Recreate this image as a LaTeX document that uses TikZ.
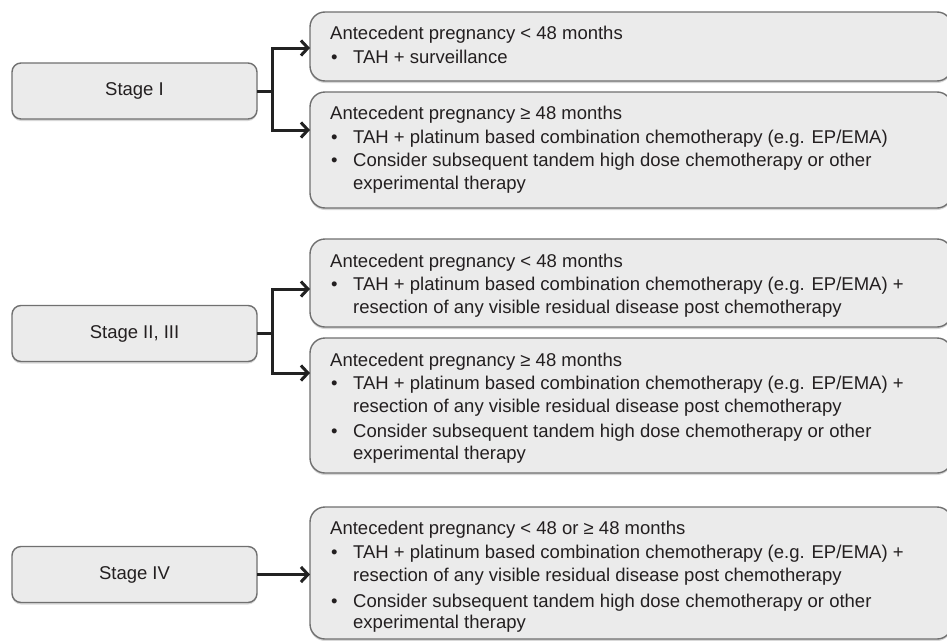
\documentclass[tikz,border=0pt]{standalone}
\usepackage{fontspec}
\setmainfont{Liberation Sans}
\usetikzlibrary{arrows.meta,shadows,calc}
\definecolor{boxfill}{HTML}{EBEBEB}
\definecolor{boxline}{HTML}{707070}
\definecolor{ink}{HTML}{231F20}
\definecolor{arrowink}{HTML}{222222}
\begin{document}
\begin{tikzpicture}[x=1pt,y=-1pt,
  every node/.style={font=\fontsize{18.5}{22}\selectfont, text=ink},
  stagebox/.style={draw=boxline, fill=boxfill, line width=1.4pt, rounded corners=9pt,
    minimum width=245pt, minimum height=56pt, outer sep=0pt, inner sep=0pt,
    drop shadow={opacity=0.3, shadow xshift=0pt, shadow yshift=-2pt}},
  optbox/.style={draw=boxline, fill=boxfill, line width=1.4pt, rounded corners=15pt,
    minimum width=642pt, outer sep=0pt, inner sep=0pt,
    drop shadow={opacity=0.3, shadow xshift=0pt, shadow yshift=-2pt}},
  txt/.style={anchor=base west, inner sep=0pt},
  conn/.style={draw=arrowink, line width=3pt},
  arr/.style={conn, -{Straight Barb[length=7pt,width=15pt]}}
]
\path[use as bounding box] (0,0) rectangle (947,640);
\clip (0,0) rectangle (947,640);
\fill[white] (0,0) rectangle (947,640);

% stage boxes
\node[stagebox] (s1) at (134.5,91) {Stage I};
\node[stagebox] (s2) at (134.5,333.5) {Stage II, III};
\node[stagebox] (s3) at (134.5,574.5) {Stage IV};

% option boxes
\node[optbox, minimum height=69pt] (b1) at (631,46.5) {};
\node[optbox, minimum height=116pt] (b2) at (631,150) {};
\node[optbox, minimum height=88pt] (b3) at (631,283) {};
\node[optbox, minimum height=135pt] (b4) at (631,405.5) {};
\node[optbox, minimum height=132pt] (b5) at (631,573) {};

% texts box 1
\node[txt] (t1a) at (330,39.5) {Antecedent pregnancy < 48 months};
\node[txt] (t1b) at (331,63.5) {•};
\node[txt] (t1c) at (353,63.5) {TAH + surveillance};

% box 2
\node[txt] (t2a) at (330,119.5) {Antecedent pregnancy ≥ 48 months};
\node[txt] (t2b) at (331,143.5) {•};
\node[txt] (t2c) at (353,143.5) {TAH + platinum based combination chemotherapy (e.g. EP/EMA)};
\node[txt] (t2d) at (331,166.5) {•};
\node[txt] (t2e) at (353,166.5) {Consider subsequent tandem high dose chemotherapy or other};
\node[txt] (t2f) at (353,189.5) {experimental therapy};

% box 3
\node[txt] (t3a) at (330,267.5) {Antecedent pregnancy < 48 months};
\node[txt] (t3b) at (331,290.5) {•};
\node[txt] (t3c) at (353,290.5) {TAH + platinum based combination chemotherapy (e.g. EP/EMA) +};
\node[txt] (t3d) at (353,313.5) {resection of any visible residual disease post chemotherapy};

% box 4
\node[txt] (t4a) at (330,366.5) {Antecedent pregnancy ≥ 48 months};
\node[txt] (t4b) at (331,389.5) {•};
\node[txt] (t4c) at (353,389.5) {TAH + platinum based combination chemotherapy (e.g. EP/EMA) +};
\node[txt] (t4d) at (353,412.5) {resection of any visible residual disease post chemotherapy};
\node[txt] (t4e) at (331,437.5) {•};
\node[txt] (t4f) at (353,437.5) {Consider subsequent tandem high dose chemotherapy or other};
\node[txt] (t4g) at (353,459.5) {experimental therapy};

% box 5
\node[txt] (t5a) at (330,534.5) {Antecedent pregnancy < 48 or ≥ 48 months};
\node[txt] (t5b) at (331,558.5) {•};
\node[txt] (t5c) at (353,558.5) {TAH + platinum based combination chemotherapy (e.g. EP/EMA) +};
\node[txt] (t5d) at (353,581.5) {resection of any visible residual disease post chemotherapy};
\node[txt] (t5e) at (331,607.5) {•};
\node[txt] (t5f) at (353,607.5) {Consider subsequent tandem high dose chemotherapy or other};
\node[txt] (t5g) at (353,628.5) {experimental therapy};

% connectors
\coordinate (j1) at (272,91);
\coordinate (j2) at (272,333.5);
\draw[conn] (s1.east) -- (j1);
\draw[arr] (j1) |- ([yshift=-1.5pt]b1.west);
\draw[arr] (j1) |- ([yshift=20pt]b2.west);
\draw[conn] (s2.east) -- (j2);
\draw[arr] (j2) |- ([yshift=-6pt]b3.west);
\draw[arr] (j2) |- ([yshift=32.5pt]b4.west);
\draw[arr] (s3.east) -- (s3.east -| b5.west);
\end{tikzpicture}
\end{document}
